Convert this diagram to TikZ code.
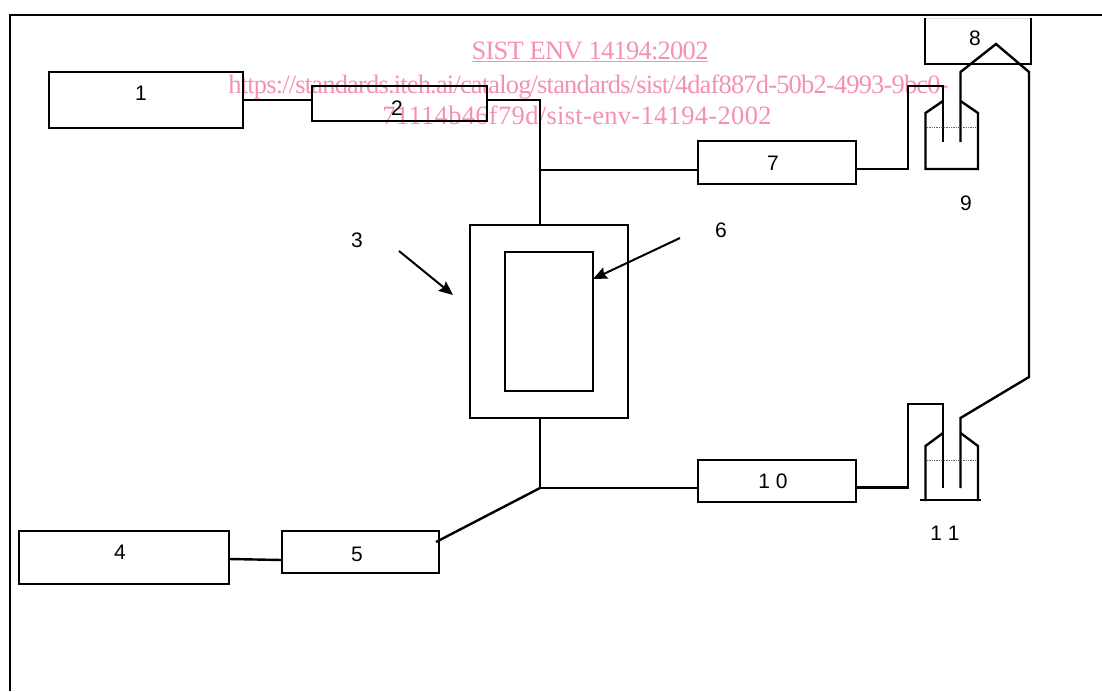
\documentclass[tikz,border=0pt]{standalone}
\usepackage{fontspec}
\usepackage{tikz}
\usetikzlibrary{arrows.meta,positioning,calc}
\setmainfont{Liberation Serif}
\setsansfont{Liberation Sans}
\definecolor{softpink}{RGB}{244,146,176}
\definecolor{softgrey}{RGB}{225,225,225}
\tikzset{
  unitbox/.style={draw, line width=2.4pt, inner sep=0pt, outer sep=0pt},
  unitlabel/.style={font=\sffamily\fontsize{21}{24}\selectfont, inner sep=0pt},
  stamp/.style={font=\fontsize{26.5}{30}\selectfont, text=softpink, inner sep=0pt},
  pipe/.style={line width=2.4pt, line join=miter},
  pointer/.style={line width=2pt, -{Stealth[length=14pt,width=12pt,inset=2pt]}},
  level/.style={densely dotted, line width=0.7pt, black!60}
}

\begin{document}
\begin{tikzpicture}[x=1pt, y=-1pt]
    \useasboundingbox (0,0) rectangle (1102,691);

    \node[stamp] (stampa) at (590,52) {\addfontfeature{LetterSpace=-2.8}\underline{SIST ENV 14194:2002}};
    \node[stamp] (stampb) at (588.5,87) {\addfontfeature{LetterSpace=-3.15}https://standards.iteh.ai/catalog/standards/sist/4daf887d-50b2-4993-9bc0-};
    \node[stamp] (stampc) at (577,115) {\addfontfeature{LetterSpace=1.2}71114b46f79d/sist-env-14194-2002};

    \coordinate (framea) at (10,691);
    \coordinate (frameb) at (10,15);
    \coordinate (framec) at (1102,15);
    \draw[pipe] (framea) -- (frameb) -- (framec);

    \node[unitbox, minimum width=194pt, minimum height=56pt] (source) at (146,100) {};
    \node[unitbox, minimum width=175pt, minimum height=35pt] (regulator) at (399.5,103.5) {};
    \node[unitbox, minimum width=158pt, minimum height=193pt] (oven) at (549,321.5) {};
    \node[unitbox, minimum width=88pt, minimum height=139pt] (sample) at (549,321.5) {};
    \node[unitbox, minimum width=158pt, minimum height=43pt] (meterup) at (777,162.5) {};
    \node[unitbox, minimum width=158pt, minimum height=42pt] (meterdown) at (777,481) {};
    \node[unitbox, minimum width=210pt, minimum height=53pt] (carrier) at (124,557.5) {};
    \node[unitbox, minimum width=157pt, minimum height=42pt] (valve) at (360.5,552) {};
    \node[draw=softgrey, line width=1pt, inner sep=0pt, outer sep=0pt, minimum width=106pt, minimum height=46pt] (analyser) at (978,41) {};
    \draw[pipe] (analyser.north west) -- (analyser.south west) -- (analyser.south east) -- (analyser.north east);

    \node[unitlabel] (labela) at (141,93) {1};
    \node[unitlabel] (labelb) at (397,108) {2};
    \node[unitlabel] (labelc) at (357,240) {3};
    \node[unitlabel] (labeld) at (120,552) {4};
    \node[unitlabel] (labele) at (357,554) {5};
    \node[unitlabel] (labelf) at (721,230) {6};
    \node[unitlabel] (labelg) at (773,163) {7};
    \node[unitlabel] (labelh) at (975,38) {8};
    \node[unitlabel] (labeli) at (966,203) {9};
    \node[unitlabel] (labelj) at (773,481) {1 0};
    \node[unitlabel] (labelk) at (945,533) {1 1};

    \coordinate (teeup) at (540,170);
    \coordinate (teedown) at (540,488);

    \draw[pipe] (source.east) -- (source.east -| regulator.west);
    \draw[pipe] (regulator.east |- source.east) -| (oven.north -| teeup);
    \draw[pipe] (teeup) -- (teeup -| meterup.west);
    \draw[pipe] (oven.south -| teedown) -- (teedown) -- (teedown -| meterdown.west);
    \draw[pipe] (teedown) -- (436,542);
    \draw[pipe] (carrier.east |- 0,559) -- (valve.west |- 0,560);

    \coordinate (arrowstart) at (399,251);
    \coordinate (arrowend) at (453,295);
    \coordinate (pointstart) at (680,238);
    \coordinate (pointend) at (593,279);
    \draw[pointer] (arrowstart) -- (arrowend);
    \draw[pointer] (pointstart) -- (pointend);

    \draw[pipe] (meterup.east |- 0,169) -- (908,169) -- (908,86) -- (943,86) -- (943,142);
    \draw[pipe] (960.5,142) -- (960.5,72) -- (996,44) -- (1029,72) -- (1029,377) -- (960.5,418) -- (960.5,488);
    \draw[pipe] (943,101) -- (925.5,113) -- (925.5,169) -- (978,169) -- (978,113) -- (960.5,101);
    \draw[level] (927,127) -- (976,127);

    \draw[pipe] (meterdown.east |- 0,487.5) -- (908,487.5) -- (908,404) -- (943,404) -- (943,488);
    \draw[pipe] (943,433) -- (925.5,446) -- (925.5,501);
    \draw[pipe] (960.5,433) -- (978,446) -- (978,501);
    \draw[pipe] (920,500) -- (981,500);
    \draw[level] (927,460) -- (976,460);
  \end{tikzpicture}
\end{document}
